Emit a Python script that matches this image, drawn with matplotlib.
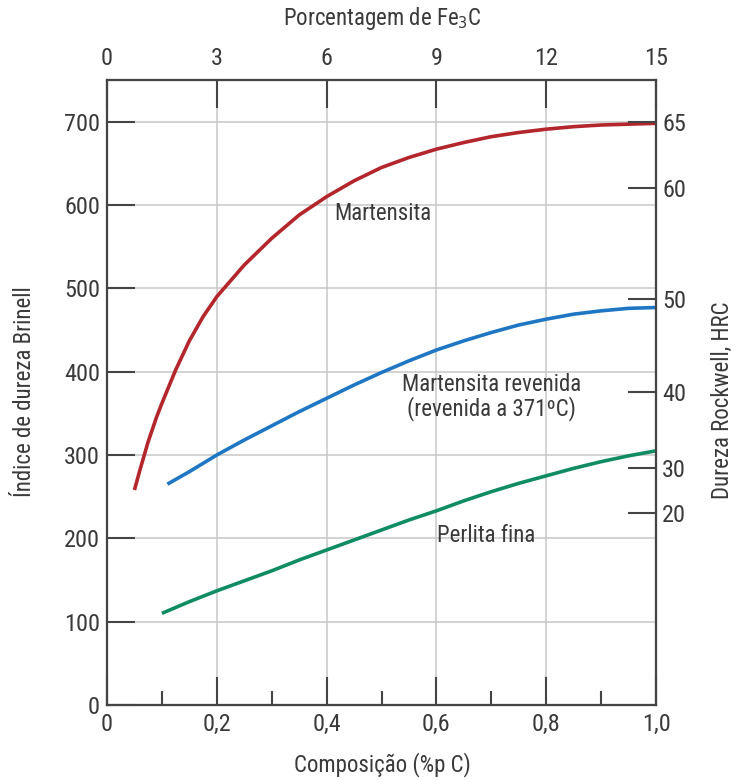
import matplotlib
matplotlib.use("Agg")
import matplotlib.pyplot as plt
from matplotlib import font_manager

# ---- data ----
mart_x = [0.05, 0.06, 0.075, 0.09, 0.10, 0.125, 0.15, 0.175, 0.20, 0.25, 0.30, 0.35, 0.40, 0.45, 0.50, 0.55, 0.60, 0.65, 0.70, 0.75, 0.80, 0.85, 0.90, 0.95, 1.00]
mart_y = [258, 282, 316, 345, 362, 402, 437, 466, 490, 528, 560, 588, 610, 629, 645, 657, 667, 675, 682, 687, 691, 694, 696, 697, 698]

rev_x = [0.11, 0.15, 0.20, 0.25, 0.30, 0.35, 0.40, 0.45, 0.50, 0.55, 0.60, 0.65, 0.70, 0.75, 0.80, 0.85, 0.90, 0.95, 1.00]
rev_y = [265, 280, 300, 318, 335, 352, 368, 384, 399, 413, 426, 437, 447, 456, 463, 469, 473, 476, 477]

perl_x = [0.10, 0.15, 0.20, 0.25, 0.30, 0.35, 0.40, 0.45, 0.50, 0.55, 0.60, 0.65, 0.70, 0.75, 0.80, 0.85, 0.90, 0.95, 1.00]
perl_y = [110, 124, 137, 149, 161, 174, 186, 198, 210, 222, 233, 245, 256, 266, 275, 284, 292, 299, 305]

x_ticks = [0, 0.2, 0.4, 0.6, 0.8, 1.0]
x_ticklabels = ["0", "0,2", "0,4", "0,6", "0,8", "1,0"]
y_ticks = [0, 100, 200, 300, 400, 500, 600, 700]
top_ticks = [0, 3, 6, 9, 12, 15]
hrc_pos = [700, 620, 487, 376, 284, 231]
hrc_labels = ["65", "60", "50", "40", "30", "20"]

# ---- fonts ----
avail = {f.name for f in font_manager.fontManager.ttflist}
cands = ["Liberation Sans Narrow", "Roboto Condensed", "Open Sans Condensed", "DejaVu Sans"]
fam = next(c for c in cands if c in avail)
plt.rcParams["font.family"] = [fam, "DejaVu Sans"]
plt.rcParams["font.stretch"] = "condensed"

tc = "#3a3a3a"
sc = "#444444"
W, H = 738, 780
fig = plt.figure(figsize=(W / 100, H / 100), dpi=100)
ax = fig.add_axes([107 / W, 1 - 705 / H, (656 - 107) / W, (705 - 80) / H])

ax.set_xlim(0, 1.0)
ax.set_ylim(0, 750)

# grid
for gx in x_ticks[1:-1]:
    ax.axvline(gx, color="#c8c8c8", lw=1.1, zorder=0)
for gy in y_ticks[1:]:
    ax.axhline(gy, color="#c8c8c8", lw=1.1, zorder=0)

ax.plot(mart_x, mart_y, color="#b3262c", lw=2.6, solid_capstyle="butt", zorder=3)
ax.plot(rev_x, rev_y, color="#1f77c4", lw=2.6, solid_capstyle="butt", zorder=3)
ax.plot(perl_x, perl_y, color="#108c62", lw=2.6, solid_capstyle="butt", zorder=3)

fs_tick = 17.5
fs_txt = 16.5
ax.text(0.503, 590, "Martensita", ha="center", va="center", fontsize=fs_txt, color=tc)
ax.text(0.70, 370, "Martensita revenida\n(revenida a 371ºC)", ha="center", va="center",
        fontsize=fs_txt, color=tc, linespacing=1.0)
ax.text(0.69, 203, "Perlita fina", ha="center", va="center", fontsize=fs_txt, color=tc)

ax.set_xticks(x_ticks)
ax.set_xticklabels(x_ticklabels)
ax.set_xticks([0.1, 0.3, 0.5, 0.7, 0.9], minor=True)
ax.set_yticks(y_ticks)
ax.tick_params(axis="both", which="major", direction="in", length=20, width=1.5,
               colors=sc, labelcolor=tc, labelsize=fs_tick)
ax.tick_params(axis="x", which="minor", direction="in", length=10, width=1.5, colors=sc)
ax.tick_params(axis="x", which="major", pad=6)
ax.tick_params(axis="y", which="major", pad=5)
for s in ax.spines.values():
    s.set_color(sc)
    s.set_linewidth(1.5)

# top axis
axt = ax.twiny()
axt.set_xlim(0, 15)
axt.set_xticks(top_ticks)
axt.tick_params(axis="x", direction="in", length=20, width=1.5, colors=sc,
                labelcolor=tc, labelsize=fs_tick, pad=7)

# right axis
axr = ax.twinx()
axr.set_ylim(0, 750)
axr.set_yticks(hrc_pos)
axr.set_yticklabels(hrc_labels)
axr.tick_params(axis="y", direction="in", length=20, width=1.5, colors=sc,
                labelcolor=tc, labelsize=fs_tick, pad=4.5)
for a in (axt, axr):
    for s in a.spines.values():
        s.set_color(sc)
        s.set_linewidth(1.5)

# axis titles
fig.text(382 / W, 1 - 765 / H, "Composição (%p C)", ha="center", va="center",
         fontsize=fs_txt, color=tc)
fig.text(382 / W, 1 - 19 / H, "Porcentagem de Fe$_3$C", ha="center", va="center",
         fontsize=fs_txt, color=tc)
fig.text(25 / W, 1 - 392 / H, "Índice de dureza Brinell", ha="center", va="center",
         rotation=90, fontsize=fs_txt, color=tc)
fig.text(722 / W, 1 - 400 / H, "Dureza Rockwell, HRC", ha="center", va="center",
         rotation=90, fontsize=fs_txt, color=tc)

fig.savefig("out.png", dpi=100)
